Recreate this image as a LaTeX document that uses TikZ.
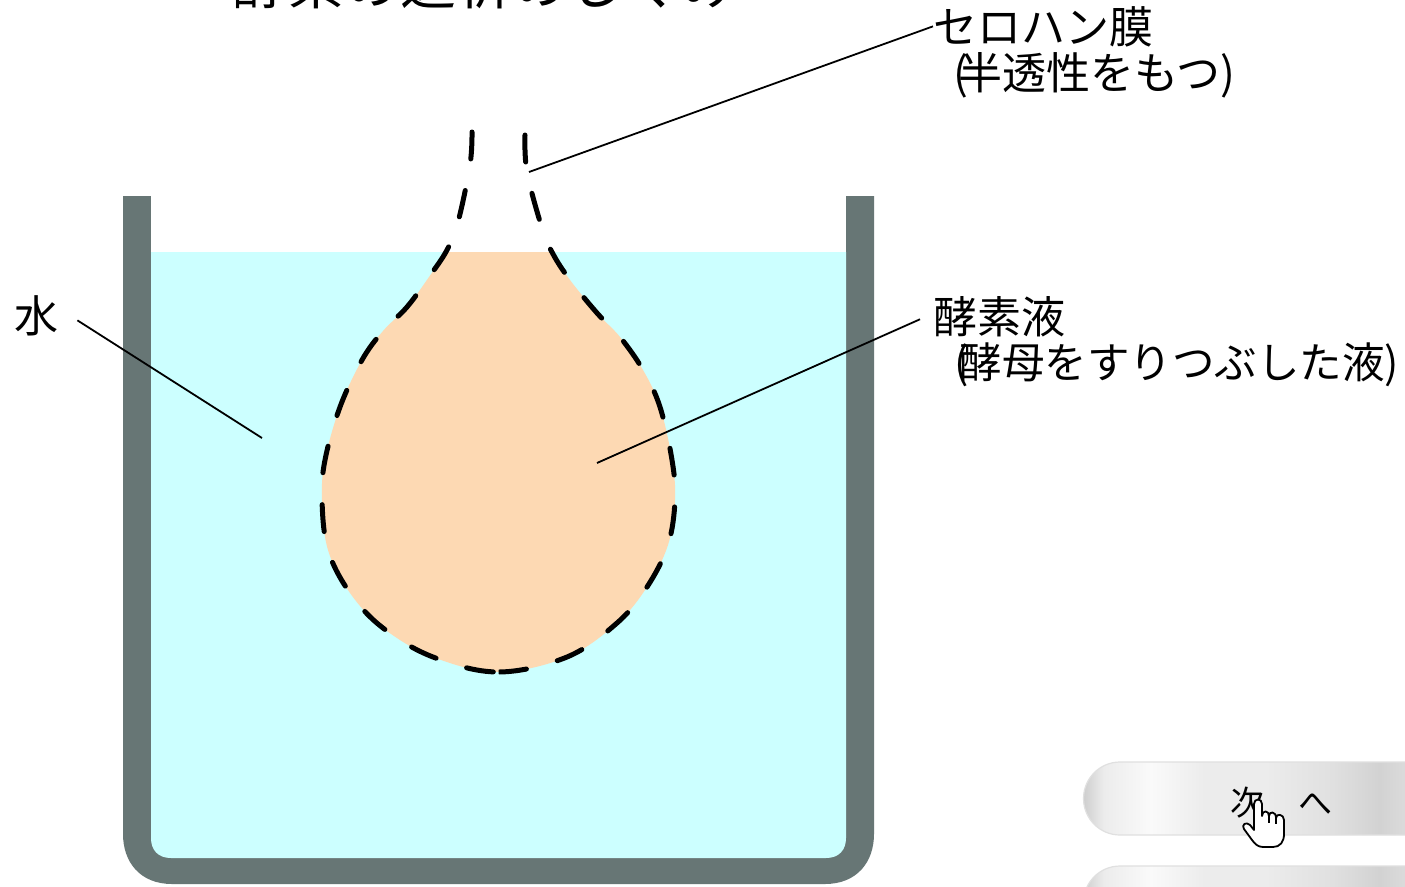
\documentclass[tikz,border=0pt]{standalone}
\usepackage{fontspec}
\newfontfamily\jp{Noto Sans CJK JP}
\usetikzlibrary{calc}
\definecolor{wall}{RGB}{103,118,117}
\definecolor{water}{RGB}{204,255,255}
\definecolor{enzyme}{RGB}{253,217,179}
\definecolor{btnA}{RGB}{206,206,206}
\definecolor{btnB}{RGB}{250,250,250}
\definecolor{btnC}{RGB}{236,236,236}
\definecolor{btnD}{RGB}{224,224,224}
\definecolor{btnE}{RGB}{210,210,210}
\pgfdeclarehorizontalshading{btnshade}{100bp}{color(0bp)=(btnA); color(25bp)=(btnA); color(28bp)=(btnC); color(35bp)=(btnB); color(43bp)=(btnC); color(52bp)=(btnC); color(62bp)=(btnD); color(69bp)=(btnE); color(75bp)=(btnD); color(100bp)=(btnD)}
% the drop outline: cellophane tube pinched at the top, bulb below
\def\dropline{(472,132) (470,165) (458,222) (447,250) (429,277) (407,307) (383,331) (362,360) (340,407) (325,460) (322,500) (328,550) (350,593) (383,628) (433,657) (498,672) (567,657) (617,623) (647,587) (668,545) (675,500) (672,460) (660,407) (643,370) (620,337) (597,313) (570,280) (553,254) (542,228) (527,172) (525,135)}
% the same outline traced from the right-hand end
\def\droplineback{(525,135) (527,172) (542,228) (553,254) (570,280) (597,313) (620,337) (643,370) (660,407) (672,460) (675,500) (668,545) (647,587) (617,623) (567,657) (498,672) (433,657) (383,628) (350,593) (328,550) (322,500) (325,460) (340,407) (362,360) (383,331) (407,307) (429,277) (447,250) (458,222) (470,165) (472,132)}
\tikzset{
  label/.style={inner sep=0pt, anchor=base west, font=\jp\fontsize{44}{48}\selectfont},
  leader/.style={draw=black, line width=1.8pt},
  membrane/.style={draw=black, line width=5pt, line cap=round, dash pattern=on 27pt off 32pt},
  button/.style={shading=btnshade, draw=black!12, line width=1.2pt},
}
\begin{document}
\begin{tikzpicture}[x=1pt, y=-1pt]
\useasboundingbox (0,0) rectangle (1405,886);
\clip (0,0) rectangle (1405,886);
\fill[white] (0,0) rectangle (1405,886);

% title, partly above the visible area
\node[inner sep=0pt, anchor=base west, font=\jp\fontsize{56}{60}\selectfont] (title) at (232,5) {酵素の透析のしくみ};

% beaker walls and water
\fill[wall] (123,196) -- (123,834) .. controls (123,862) and (140,884) .. (172,884) -- (825,884) .. controls (857,884) and (874,862) .. (874,834) -- (874,196) -- cycle;
\fill[white] (151,196) rectangle (846,252);
\fill[water] (151,252) -- (151,838) .. controls (151,850) and (158,858) .. (171,858) -- (826,858) .. controls (839,858) and (846,850) .. (846,838) -- (846,252) -- cycle;

% enzyme solution inside the cellophane bag (below the water line)
\begin{scope}
  \clip (0,252) rectangle (1405,900);
  \fill[enzyme] plot[smooth, tension=0.6] coordinates {\dropline} -- cycle;
\end{scope}
% dashed membrane, each half dashed from its own top end
\begin{scope}
  \clip (0,0) rectangle (498.5,900);
  \draw[membrane] plot[smooth, tension=0.6] coordinates {\dropline};
\end{scope}
\begin{scope}
  \clip (498.5,0) rectangle (1405,900);
  \draw[membrane] plot[smooth, tension=0.6] coordinates {\droplineback};
\end{scope}

% labels
\node[label] (cello1) at (933,43) {セロハン膜};
\node[label] (cello2) at (953,89) {(\kern-10pt 半透性をもつ)};
\node[label] (enz1) at (933,333) {酵素液};
\node[label, font=\jp\fontsize{42.5}{48}\selectfont] (enz2) at (954,378) {(\kern-9pt 酵母をすりつぶした液)};
\node[label] (wlab) at (14,332) {水};

\coordinate (celloTip) at (529,172);
\coordinate (enzTip) at (597,463);
\coordinate (waterTip) at (262,438);

\draw[leader] (celloTip) -- (cello1.west);
\draw[leader] (enzTip) -- ($(enz1.west)+(-13,3)$);
\draw[leader] ($(wlab.east)+(19,5)$) -- (waterTip);

% navigation buttons
\path[button] (1420,762) -- (1120,762) arc[start angle=270, end angle=90, radius=36.5] -- (1420,835) -- cycle;
\path[button] (1420,866) -- (1120,866) arc[start angle=270, end angle=90, radius=36.5] -- (1420,939) -- cycle;
\node[inner sep=0pt, anchor=base west, font=\jp\fontsize{34}{36}\selectfont] (next) at (1230,815) {次　へ};

% pointer hand
\filldraw[fill=white, draw=black, line width=1.8pt, line join=round]
  (1254,830) -- (1254,804) .. controls (1254,798) and (1262,798) .. (1262,804) -- (1262,816)
  .. controls (1262,810) and (1269,810) .. (1269,816)
  .. controls (1269,811) and (1276,811) .. (1276,818)
  .. controls (1276,813) and (1284,814) .. (1284,820) -- (1284,834)
  .. controls (1284,842) and (1280,847) .. (1273,847) -- (1263,847)
  .. controls (1258,847) and (1255,844) .. (1252,840) -- (1244,829)
  .. controls (1241,825) and (1246,821) .. (1250,825) -- cycle;
\draw[line width=1.2pt] (1269,816) -- (1269,823) (1276,818) -- (1276,824);
\end{tikzpicture}
\end{document}
